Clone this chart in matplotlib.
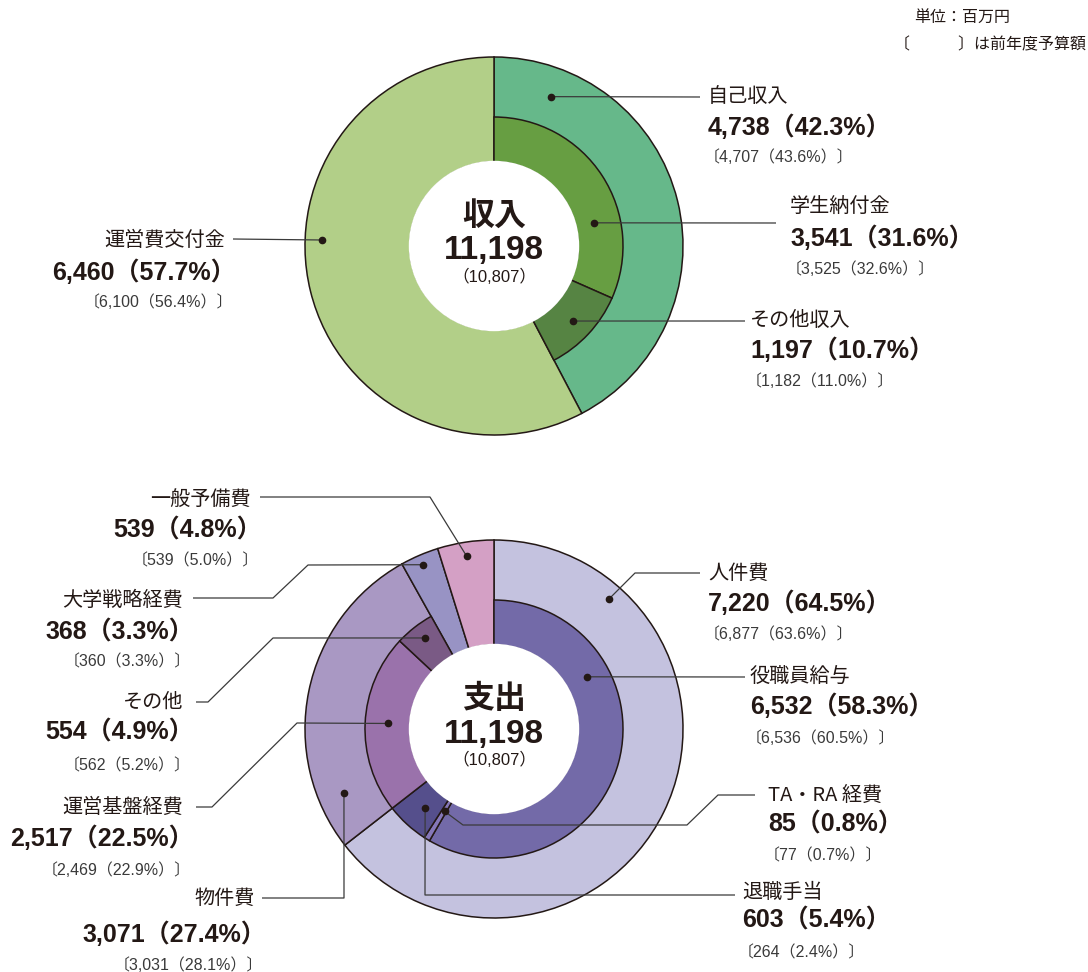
import numpy as np
import matplotlib
matplotlib.use('Agg')
import matplotlib.pyplot as plt
from matplotlib.patches import Circle

plt.rcParams['font.family'] = ['Noto Sans CJK JP', 'DejaVu Sans']

# === data ===
total = 11198
total_prev = 10807

inc_outer_labels = ['自己収入', '運営費交付金']
inc_outer_values = [4738, 6460]
inc_outer_pct = [42.3, 57.7]
inc_outer_prev = [4707, 6100]
inc_outer_prev_pct = [43.6, 56.4]

inc_inner_labels = ['学生納付金', 'その他収入']
inc_inner_values = [3541, 1197]
inc_inner_pct = [31.6, 10.7]
inc_inner_prev = [3525, 1182]
inc_inner_prev_pct = [32.6, 11.0]

exp_outer_labels = ['人件費', '物件費', '大学戦略経費', '一般予備費']
exp_outer_values = [7220, 3071, 368, 539]
exp_outer_pct = [64.5, 27.4, 3.3, 4.8]
exp_outer_prev = [6877, 3031, 360, 539]
exp_outer_prev_pct = [63.6, 28.1, 3.3, 5.0]

exp_inner_labels = ['役職員給与', 'TA・RA 経費', '退職手当', '運営基盤経費', 'その他']
exp_inner_values = [6532, 85, 603, 2517, 554]
exp_inner_pct = [58.3, 0.8, 5.4, 22.5, 4.9]
exp_inner_prev = [6536, 77, 264, 2469, 562]
exp_inner_prev_pct = [60.5, 0.7, 2.4, 22.9, 5.2]

# === style ===
W, H = 1088, 972
EDGE = '#231815'
TXT = '#231815'
R_OUT, R_MID, R_IN = 189, 129, 84
NUMFONT = ['Liberation Sans', 'Noto Sans CJK JP']

inc_outer_colors = ['#66b88a', '#b2cf88']
inc_inner_colors = ['#679e42', '#568443']
exp_outer_colors = ['#c4c2df', '#a998c3', '#9893c4', '#d4a0c5']
exp_inner_colors = ['#736aa8', '#8577b8', '#554f8c', '#9a72ab', '#7a5a85']

fig = plt.figure(figsize=(W / 100, H / 100), dpi=100)
ax = fig.add_axes([0, 0, 1, 1])


def fy(y):
    return H - y


def polar(center, ang, r):
    a = np.radians(ang)
    return center[0] + r * np.sin(a), center[1] - r * np.cos(a)


def donut(center, outer_vals, outer_cols, inner_vals, inner_cols):
    c = (center[0], fy(center[1]))
    wp = dict(width=R_OUT - R_IN, edgecolor=EDGE, linewidth=1.1)
    ax.pie(outer_vals, colors=outer_cols, radius=R_OUT, center=c,
           startangle=90, counterclock=False, wedgeprops=wp)
    rest = sum(outer_vals) - sum(inner_vals)
    wedges, _ = ax.pie(list(inner_vals) + [rest], colors=list(inner_cols) + ['none'],
                       radius=R_MID, center=c, startangle=90, counterclock=False,
                       wedgeprops=dict(width=R_MID - R_IN, edgecolor=EDGE, linewidth=1.1))
    wedges[-1].set_edgecolor('none')
    ax.add_patch(Circle(c, R_IN + 1.2, facecolor='white', edgecolor='none', zorder=3))


def center_text(center, title):
    x, y = center
    ax.text(x, fy(y - 30), title, ha='center', va='center', fontsize=23,
            fontweight='bold', color=TXT, zorder=4)
    ax.text(x, fy(y + 5), f'{total:,}', ha='center', va='center', fontsize=24,
            fontweight='bold', family=NUMFONT, color=TXT, zorder=4)
    ax.text(x, fy(y + 31), f'（{total_prev:,}）', ha='center', va='center',
            fontsize=12, family=NUMFONT, color=TXT, zorder=4)


def callout(center, label, val, pct, prev, prev_pct, dot, path, tx, tys, ha):
    px, py = polar(center, *dot)
    xs = [px] + [p[0] for p in path]
    ys = [fy(py)] + [fy(p[1]) for p in path]
    ax.plot(xs, ys, color='#3a3a3a', lw=0.9, zorder=5, solid_capstyle='butt')
    ax.plot(px, fy(py), 'o', color=EDGE, ms=4.5, zorder=6)
    # full-width brackets carry side bearings; nudge anchors to line up the ink
    num_dx = 11 if ha == 'right' else 0
    br_dx = 8 if ha == 'right' else -4
    ax.text(tx, fy(tys[0]), label, ha=ha, va='center', fontsize=14.5, color=TXT)
    ax.text(tx + num_dx, fy(tys[1]), f'{val:,}（{pct:.1f}%）', ha=ha, va='center',
            fontsize=18, fontweight='bold', family=NUMFONT, color=TXT)
    ax.text(tx + br_dx, fy(tys[2]), f'〔{prev:,}（{prev_pct:.1f}%）〕', ha=ha, va='center',
            fontsize=11.5, family=NUMFONT, color='#3a3a3a')


c_inc = (494, 246)
c_exp = (494, 729)

donut(c_inc, inc_outer_values, inc_outer_colors, inc_inner_values, inc_inner_colors)
donut(c_exp, exp_outer_values, exp_outer_colors, exp_inner_values, exp_inner_colors)
center_text(c_inc, '収入')
center_text(c_exp, '支出')

# callout layout: (dot angle, dot radius), leader path, text x, text ys, align
inc_layout = {
    '自己収入': ((21, 160), [(700, 97)], 708, (97, 127, 157), 'left'),
    '運営費交付金': ((272, 172), [(233, 239)], 225, (240, 272, 302), 'right'),
    '学生納付金': ((77, 103), [(776, 223)], 790, (207, 238, 269), 'left'),
    'その他収入': ((133.5, 109), [(745, 321)], 750, (321, 350, 381), 'left'),
}
exp_layout = {
    '人件費': ((41.5, 174), [(635, 573), (700, 573)], 708, (573, 603, 634), 'left'),
    '物件費': ((247, 163), [(344, 898), (262, 898)], 255, (898, 934, 965), 'right'),
    '大学戦略経費': ((336.6, 179), [(308, 565), (273, 598), (193, 598)], 183, (600, 632, 662), 'right'),
    '一般予備費': ((351, 175), [(430, 497), (260, 497)], 251, (499, 530, 561), 'right'),
    '役職員給与': ((60.8, 107), [(745, 677)], 750, (677, 706, 738), 'left'),
    'TA・RA 経費': ((211, 96), [(463, 825), (687, 825), (718, 795), (755, 795)], 768, (795, 825, 856), 'left'),
    '退職手当': ((221, 105), [(425, 895), (735, 895)], 742, (893, 921, 953), 'left'),
    '運営基盤経費': ((273, 106), [(297, 723), (212, 807), (196, 807)], 183, (807, 838, 870), 'right'),
    'その他': ((323, 114), [(273, 638), (208, 702), (196, 702)], 183, (702, 733, 766), 'right'),
}

for labels, vals, pcts, prevs, ppcts in [
        (inc_outer_labels, inc_outer_values, inc_outer_pct, inc_outer_prev, inc_outer_prev_pct),
        (inc_inner_labels, inc_inner_values, inc_inner_pct, inc_inner_prev, inc_inner_prev_pct)]:
    for i, lab in enumerate(labels):
        dot, path, tx, tys, ha = inc_layout[lab]
        callout(c_inc, lab, vals[i], pcts[i], prevs[i], ppcts[i], dot, path, tx, tys, ha)

for labels, vals, pcts, prevs, ppcts in [
        (exp_outer_labels, exp_outer_values, exp_outer_pct, exp_outer_prev, exp_outer_prev_pct),
        (exp_inner_labels, exp_inner_values, exp_inner_pct, exp_inner_prev, exp_inner_prev_pct)]:
    for i, lab in enumerate(labels):
        dot, path, tx, tys, ha = exp_layout[lab]
        callout(c_exp, lab, vals[i], pcts[i], prevs[i], ppcts[i], dot, path, tx, tys, ha)

# unit note
ax.text(1010, fy(18), '単位：百万円', ha='right', va='center', fontsize=11.5, color=TXT)
ax.text(1086, fy(45), '〔　　　〕は前年度予算額', ha='right', va='center', fontsize=11.5, color=TXT)

ax.set_xlim(0, W)
ax.set_ylim(0, H)
ax.set_aspect('equal')
ax.axis('off')

fig.savefig('out.png', dpi=100, facecolor='white')
